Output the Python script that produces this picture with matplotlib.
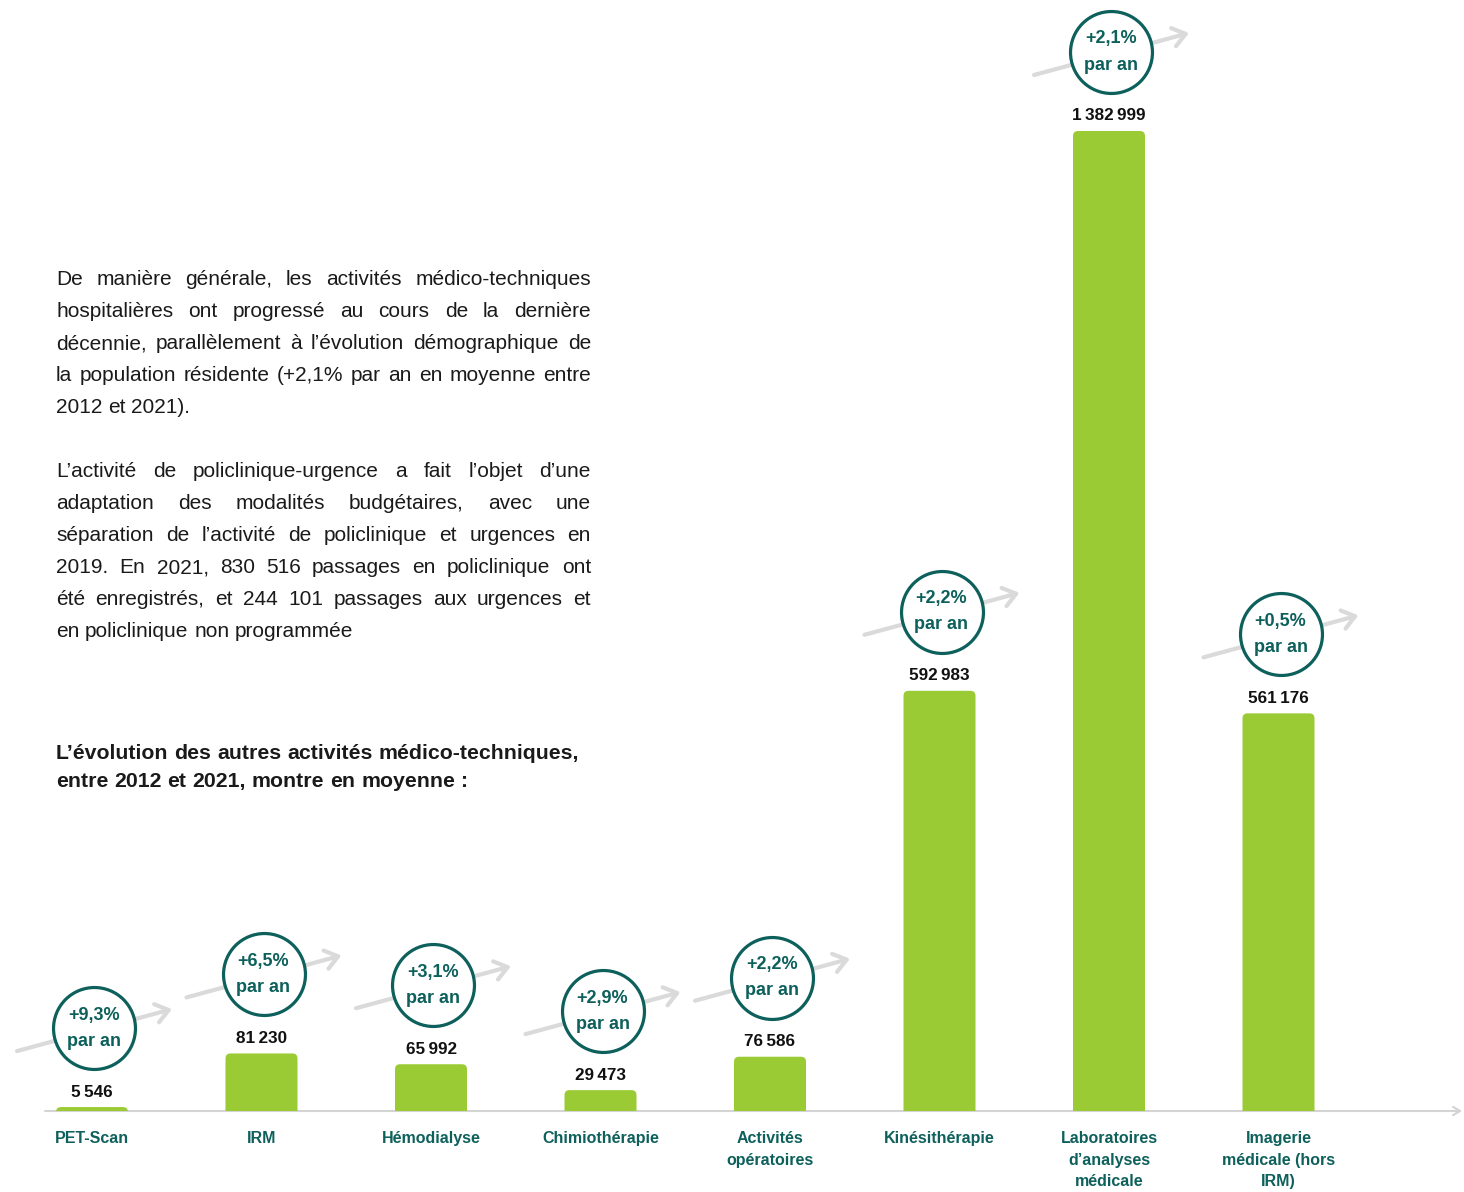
import matplotlib
matplotlib.use("Agg")
import matplotlib.pyplot as plt
from matplotlib.patches import FancyBboxPatch
from matplotlib.transforms import offset_copy

# data
categories = ["PET-Scan", "IRM", "Hémodialyse", "Chimiothérapie",
              "Activités\nopératoires", "Kinésithérapie",
              "Laboratoires\nd’analyses\nmédicale",
              "Imagerie\nmédicale (hors\nIRM)"]
values = [5546, 81230, 65992, 29473, 76586, 592983, 1382999, 561176]
growth = ["+9,3%", "+6,5%", "+3,1%", "+2,9%", "+2,2%", "+2,2%", "+2,1%", "+0,5%"]

para1 = ["De manière générale, les activités médico-techniques",
         "hospitalières ont progressé au cours de la dernière",
         "décennie, parallèlement à l’évolution démographique de",
         "la population résidente (+2,1% par an en moyenne entre",
         "2012 et 2021)."]
para2 = ["L’activité de policlinique-urgence a fait l’objet d’une",
         "adaptation des modalités budgétaires, avec une",
         "séparation de l’activité de policlinique et urgences en",
         "2019. En 2021, 830 516 passages en policlinique ont",
         "été enregistrés, et 244 101 passages aux urgences et",
         "en policlinique non programmée"]
heading = ["L’évolution des autres activités médico-techniques,",
           "entre 2012 et 2021, montre en moyenne :"]

# style
FAM = ["Liberation Sans", "DejaVu Sans"]
GREEN = "#9bcb34"
TEAL = "#0d605b"
ARROW = "#dadada"
W, H = 1464, 1192

plt.rcParams["font.family"] = FAM
fig = plt.figure(figsize=(W / 100, H / 100), dpi=100)

# axes: baseline at y=1111 px, bars 169.5 px apart, first centre at x=92 px
base_px = 1111
step = 169.5
ax = fig.add_axes([0, (H - base_px) / H, 1, base_px / H])
ax.set_xlim(-92 / step, (W - 92) / step)
ytop = max(values) * base_px / 980
ax.set_ylim(0, ytop)
ax.axis("off")

bar_w = 72 / step
yppx = ytop / base_px          # y units per pixel
aspect = yppx * step           # y units per x unit (pixel-wise)
r = 5 / step

for i, v in enumerate(values):
    # rounded top, bottom hidden under the baseline (clipped by axes)
    bar = FancyBboxPatch((i - bar_w / 2, -20 * yppx), bar_w, v + 20 * yppx,
                         boxstyle=f"round,pad=0,rounding_size={r}",
                         mutation_aspect=aspect, fc=GREEN, ec="none", zorder=2)
    ax.add_patch(bar)

    lbl = f"{v:,}".replace(",", "\u202f")
    ax.annotate(lbl, (i, v), xytext=(0, 15), textcoords="offset pixels",
                ha="center", va="center", fontsize=12.3, weight="bold",
                color="#111111", zorder=5)

    # growth arrow + circle
    cx, cy = 2, 79
    ax.annotate("", xy=(i, v),
                xycoords=offset_copy(ax.transData, fig=fig, x=cx + 78, y=cy + 19, units="dots"),
                xytext=(i, v),
                textcoords=offset_copy(ax.transData, fig=fig, x=cx - 77, y=cy - 23, units="dots"),
                arrowprops=dict(arrowstyle="->,head_length=0.6,head_width=0.45",
                                color=ARROW, lw=3, shrinkA=0, shrinkB=0,
                                mutation_scale=15),
                annotation_clip=False, zorder=3)
    ax.plot([i], [v], marker="o", ms=59, mfc="white", mec=TEAL, mew=2.3,
            transform=offset_copy(ax.transData, fig=fig, x=cx, y=cy, units="dots"),
            clip_on=False, zorder=4)
    ax.annotate(f"{growth[i]}\npar an", (i, v), xytext=(cx, cy),
                textcoords="offset pixels", ha="center", va="center",
                fontsize=13, weight="bold", color=TEAL, linespacing=1.7,
                zorder=5)

    ax.annotate(categories[i], (i, 0), xytext=(0, -20), textcoords="offset pixels",
                ha="center", va="top", fontsize=11.5, weight="bold", color=TEAL,
                linespacing=1.55, annotation_clip=False)

# baseline with arrow
ax.annotate("", xy=((1462 - 92) / step, 0), xytext=((45 - 92) / step, 0),
            arrowprops=dict(arrowstyle="->,head_length=0.5,head_width=0.3",
                            color="#d4d4d4", lw=1.5, shrinkA=0, shrinkB=0),
            annotation_clip=False, zorder=1)

# justified text block
renderer = fig.canvas.get_renderer()
x0, x1 = 56, 591


def text_line(line, y, size, weight="normal", justify=True):
    words = line.split(" ")
    arts = [fig.text(0, 0, w, fontsize=size, weight=weight, color="#1a1a1a",
                     va="baseline", ha="left") for w in words]
    widths = [a.get_window_extent(renderer).width for a in arts]
    if justify and len(words) > 1:
        gap = (x1 - x0 - sum(widths)) / (len(words) - 1)
    else:
        sp = fig.text(0, 0, "a a", fontsize=size, weight=weight)
        sp2 = fig.text(0, 0, "aa", fontsize=size, weight=weight)
        gap = sp.get_window_extent(renderer).width - sp2.get_window_extent(renderer).width
        sp.remove()
        sp2.remove()
    x = x0
    for a, w in zip(arts, widths):
        a.set_position((x / W, 1 - y / H))
        x += w + gap


for k, line in enumerate(para1):
    text_line(line, 285 + 32 * k, 15, justify=k < len(para1) - 1)
for k, line in enumerate(para2):
    text_line(line, 477 + 32 * k, 15, justify=k < len(para2) - 1)
for k, line in enumerate(heading):
    text_line(line, 759 + 28 * k, 15.3, weight="bold", justify=False)

fig.savefig("out.png", dpi=100, facecolor="white")
